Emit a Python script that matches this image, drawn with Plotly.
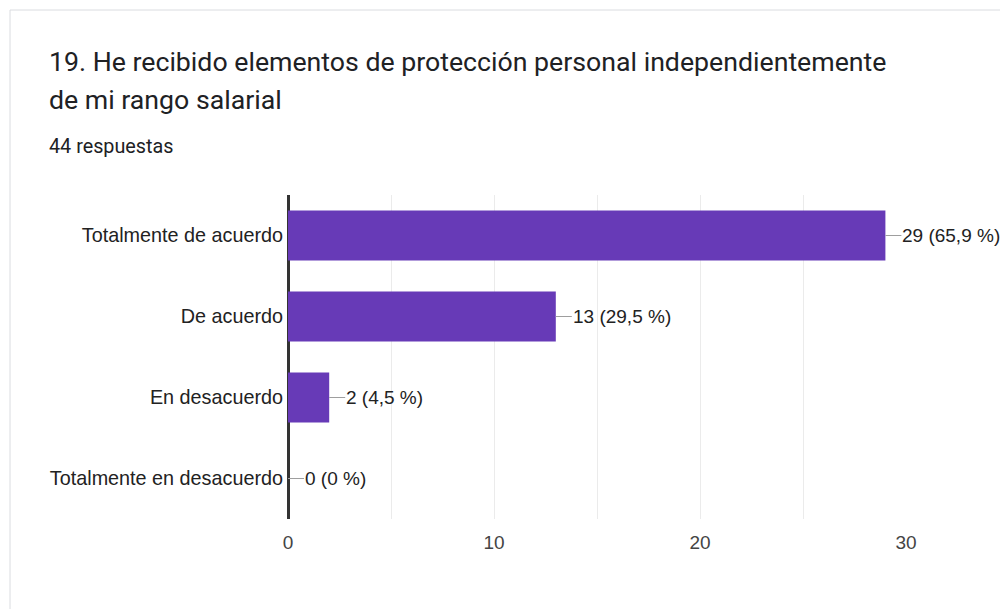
import plotly.graph_objects as go

categories = ["Totalmente de acuerdo", "De acuerdo", "En desacuerdo", "Totalmente en desacuerdo"]
counts = [29, 13, 2, 0]
percent_labels = ["65,9 %", "29,5 %", "4,5 %", "0 %"]
x_ticks = [0, 5, 10, 15, 20, 25, 30]
x_ticktext = ["0", "", "10", "", "20", "", "30"]
title_lines = ["19. He recibido elementos de protección personal independientemente",
               "de mi rango salarial"]
subtitle = "44 respuestas"

OFF = 8  # page body margin
W, H = 1008 - 2 * OFF, 609 - OFF
L, R, T, B = 288 - OFF, 94, 195 - OFF, 90
pw, ph = W - L - R, H - T - B

def px2x(px):
    return (px - OFF - L) / pw

def px2y(py):
    return (H - B - (py - OFF)) / ph

fig = go.Figure()
fig.add_trace(go.Bar(
    y=categories, x=counts, orientation="h",
    marker=dict(color="#673ab7", line=dict(width=0)),
    hoverinfo="skip",
))

annotations = []
for c, v, p in zip(categories, counts, percent_labels):
    annotations.append(dict(
        x=v, y=c, xref="x", yref="y",
        text=f"{v} ({p})", showarrow=True, arrowhead=0, arrowwidth=1,
        arrowcolor="#9e9e9e", ax=16, ay=0, xanchor="left", yanchor="middle",
        standoff=0, borderpad=0,
        font=dict(family="Liberation Sans, Arial", size=19, color="#222222"),
    ))

title_font = dict(family="Roboto", size=26.7, color="#202124")
annotations.append(dict(x=px2x(47), y=px2y(62), xref="paper", yref="paper",
                        text=title_lines[0], showarrow=False, xanchor="left", yanchor="middle",
                        font=title_font))
annotations.append(dict(x=px2x(47), y=px2y(100), xref="paper", yref="paper",
                        text=title_lines[1], showarrow=False, xanchor="left", yanchor="middle",
                        font=title_font))
annotations.append(dict(x=px2x(47), y=px2y(146), xref="paper", yref="paper",
                        text=subtitle, showarrow=False, xanchor="left", yanchor="middle",
                        font=dict(family="Roboto", size=19.8, color="#202124")))

fig.update_layout(
    width=W, height=H,
    margin=dict(l=L, r=R, t=T, b=B, pad=0),
    paper_bgcolor="white", plot_bgcolor="white",
    bargap=0.38, showlegend=False,
    annotations=annotations,
    shapes=[dict(type="rect", xref="paper", yref="paper",
                 x0=px2x(10), x1=px2x(1060), y0=px2y(660), y1=px2y(10),
                 line=dict(color="#dadce0", width=1), fillcolor="rgba(0,0,0,0)", layer="below")],
    xaxis=dict(range=[0, 30], tickvals=x_ticks, ticktext=x_ticktext,
               showgrid=True, gridcolor="#ebebeb", gridwidth=1,
               zeroline=True, zerolinecolor="#333333", zerolinewidth=3,
               showline=False, ticks="", ticklabelstandoff=10,
               tickfont=dict(family="Liberation Sans, Arial", size=19, color="#444444")),
    yaxis=dict(autorange="reversed", showgrid=False, zeroline=False, showline=False,
               ticks="", ticklabelstandoff=4,
               tickfont=dict(family="Liberation Sans, Arial", size=19.8, color="#222222")),
)

fig.write_html("out.html")
